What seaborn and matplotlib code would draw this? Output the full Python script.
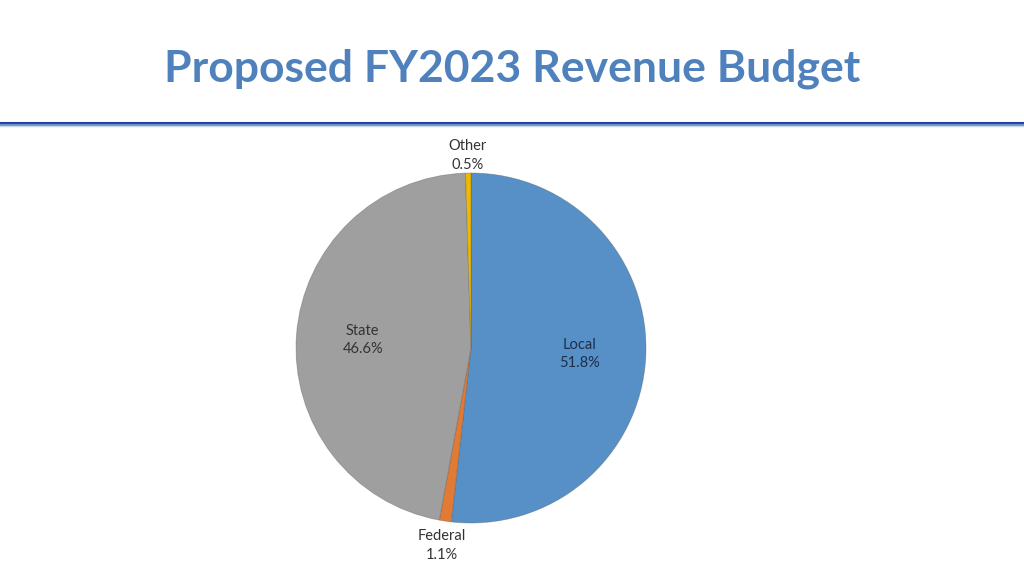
import numpy as np
import matplotlib
matplotlib.use("Agg")
import matplotlib.pyplot as plt
import seaborn as sns

categories = ["Local", "Federal", "State", "Other"]
shares = [51.8, 1.1, 46.6, 0.5]
pct_labels = ["51.8%", "1.1%", "46.6%", "0.5%"]
colors = ["#5790c6", "#e07a35", "#9f9f9f", "#f0b800"]
label_colors = ["#1c2f4c", "#333333", "#333333", "#333333"]
label_radius = [0.62, 1.14, 0.62, 1.10]

sns.set_theme(style="white")
plt.rcParams['font.family'] = ['Lato', 'DejaVu Sans']

fig = plt.figure(figsize=(10.24, 5.76), dpi=100)
fig.patch.set_facecolor("white")

# Title
fig.text(0.5, 1 - 69 / 576, "Proposed FY2023 Revenue Budget", ha="center", va="center",
         fontsize=32, fontweight="bold", color="#4f81bd")

# Decorative lines below title
line_ax = fig.add_axes([0, 1 - 129 / 576, 1, 10 / 576])
line_ax.set_xlim(0, 1)
line_ax.set_ylim(0, 10)
line_ax.axis("off")
line_ax.axhline(6.5, color="#1f3f9f", lw=2.2)
line_ax.axhline(4.2, color="#6d8fc8", lw=1.6)
line_ax.axhline(3.0, color="#c8d6ea", lw=1.0)

# Pie
cx, cy, r = 471, 348, 175
W, H = 1024, 576
ax = fig.add_axes([(cx - r) / W, 1 - (cy + r) / H, 2 * r / W, 2 * r / H])
wedges, _ = ax.pie(shares, colors=colors, startangle=90, counterclock=False,
                   wedgeprops=dict(linewidth=0.6, edgecolor="#6b6b6b"))
ax.set_xlim(-1, 1)
ax.set_ylim(-1, 1)
ax.set_aspect("equal")
for w in wedges:
    w.set_edgecolor((0.3, 0.3, 0.3, 0.35))
    w.set_clip_on(False)

for w, cat, pl, rad, lc in zip(wedges, categories, pct_labels, label_radius, label_colors):
    ang = np.deg2rad((w.theta1 + w.theta2) / 2)
    x, y = rad * np.cos(ang), rad * np.sin(ang)
    ax.text(x, y, f"{cat}\n{pl}", ha="center", va="center", fontsize=10.5,
            color=lc, linespacing=1.4, clip_on=False)

fig.savefig("out.png", dpi=100, facecolor="white")
